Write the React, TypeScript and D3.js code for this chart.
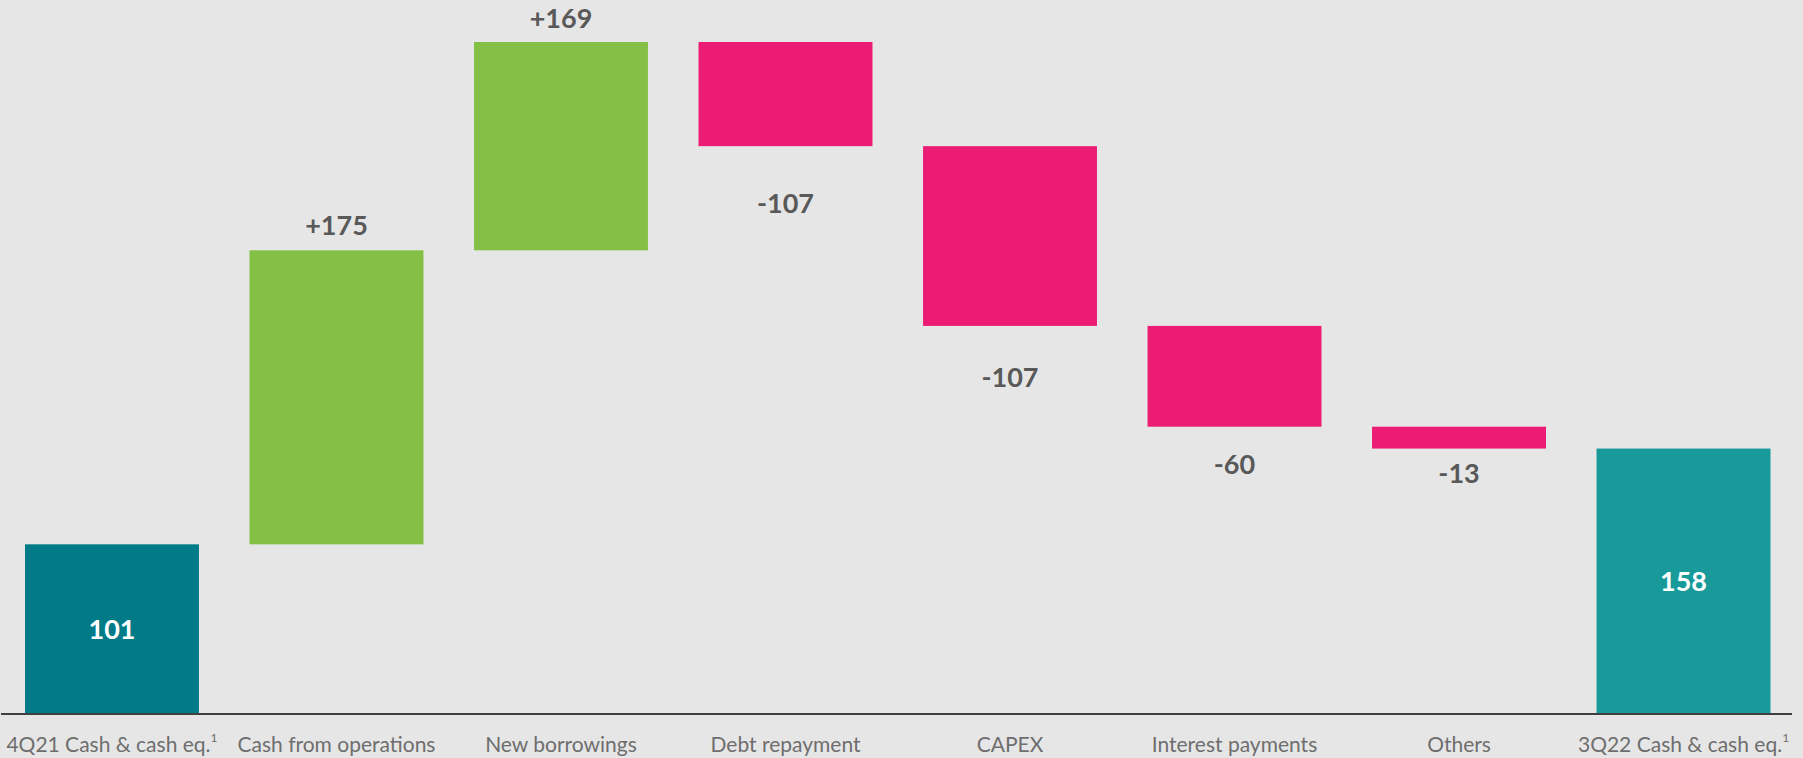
import React, { useEffect } from 'react';
import * as d3 from 'd3';

const categories = [
  '4Q21 Cash & cash eq.',
  'Cash from operations',
  'New borrowings',
  'Debt repayment',
  'CAPEX',
  'Interest payments',
  'Others',
  '3Q22 Cash & cash eq.',
];
const footnotes = ['1', '', '', '', '', '', '', '1'];
const kinds = ['start', 'delta', 'delta', 'delta', 'delta', 'delta', 'delta', 'end'];
const values = [101, 175, 169, -107, -107, -60, -13, 158];
const valueLabels = ['101', '+175', '+169', '-107', '-107', '-60', '-13', '158'];
const yDomain = [0, 400];

// layout (px gap between bar edge and its label)
const labelGap = [0, 15, 14, 67, 61, 47, 34, 0];

const W = 1803;
const H = 758;
const BG = '#E6E6E6';
const colors = {
  start: '#007B87',
  end: '#189A9B',
  up: '#84C045',
  down: '#EC1C74',
};

export default function App() {
  useEffect(() => {
    document.body.style.margin = '0';
    document.body.style.overflow = 'hidden';
  }, []);

  const x = d3
    .scaleBand<string>()
    .domain(categories)
    .range([25, 1770.5])
    .paddingInner(0.2252)
    .paddingOuter(0);
  const y = d3.scaleLinear().domain(yDomain).range([714, 42]).clamp(true);

  let running = 0;
  const bars = categories.map((c, i) => {
    const v = values[i];
    let a: number, b: number, color: string;
    if (kinds[i] === 'start' || kinds[i] === 'end') {
      a = 0;
      b = v;
      running = v;
      color = kinds[i] === 'start' ? colors.start : colors.end;
    } else {
      a = running;
      b = running + v;
      running = b;
      color = v >= 0 ? colors.up : colors.down;
    }
    const y0 = y(Math.max(a, b));
    const y1 = y(Math.min(a, b));
    return { c, i, v, kind: kinds[i], x: x(c)!, w: x.bandwidth(), top: y0, bottom: y1, color };
  });

  const font = 'Lato, "Open Sans", sans-serif';

  return (
    <svg width={W} height={H} style={{ display: 'block', background: BG }}>
      <rect x={0} y={0} width={W} height={H} fill={BG} />
      {bars.map((b) => (
        <rect key={'r' + b.i} x={b.x} y={b.top} width={b.w} height={Math.max(0, b.bottom - b.top)} fill={b.color} />
      ))}
      <line x1={1} x2={1792} y1={714} y2={714} stroke="#3F3F3F" strokeWidth={2} />
      {bars.map((b) => {
        const cx = b.x + b.w / 2;
        let ty: number;
        let fill = '#595959';
        if (b.kind !== 'delta') {
          ty = (b.top + b.bottom) / 2 + 10;
          fill = '#FFFFFF';
        } else if (b.v >= 0) {
          ty = b.top - labelGap[b.i];
        } else {
          ty = b.bottom + labelGap[b.i];
        }
        return (
          <text key={'v' + b.i} x={cx} y={ty} textAnchor="middle" fontFamily={font} fontWeight={700} fontSize={27} fill={fill}>
            {valueLabels[b.i]}
          </text>
        );
      })}
      {bars.map((b) => (
        <text key={'c' + b.i} x={b.x + b.w / 2} y={752} textAnchor="middle" fontFamily={font} fontSize={21} fill="#6E6E6E">
          {b.c}
          {footnotes[b.i] ? (
            <tspan fontSize={12} dy={-10}>
              {footnotes[b.i]}
            </tspan>
          ) : null}
        </text>
      ))}
    </svg>
  );
}
